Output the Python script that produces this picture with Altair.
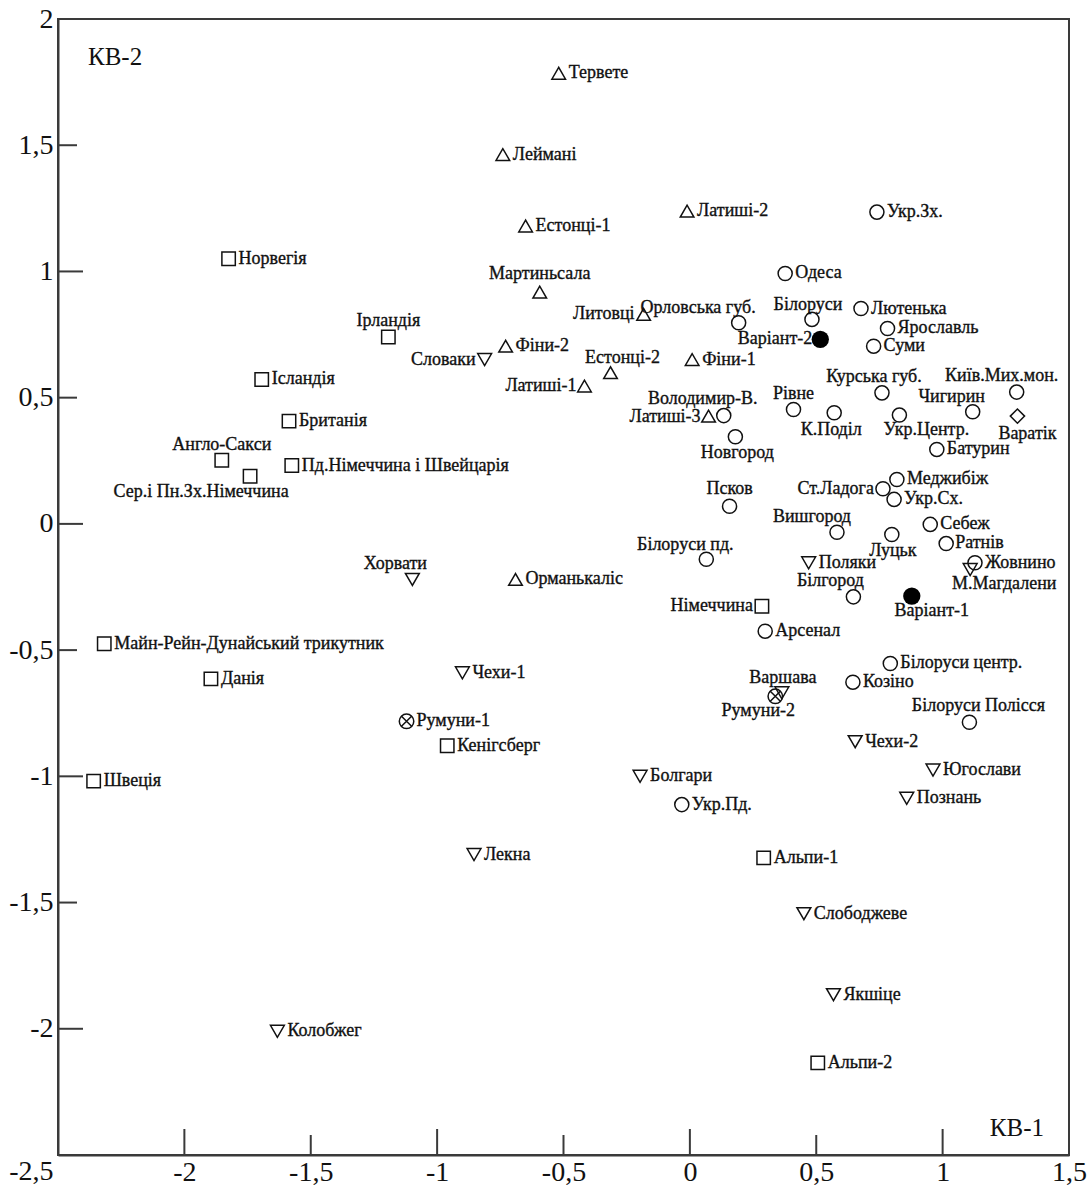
import altair as alt
import pandas as pd

# --- Population coordinates on the first two canonical variables ---------
NAMES = [
    # West-European samples (squares)
    "Норвегія", "Ірландія", "Ісландія", "Британія", "Англо-Сакси",
    "Сер.і Пн.Зх.Німеччина", "Пд.Німеччина і Швейцарія",
    "Майн-Рейн-Дунайський трикутник", "Данія", "Швеція", "Кенігсберг",
    "Німеччина", "Альпи-1", "Альпи-2",
    # Baltic and Finnic samples (upward triangles)
    "Тервете", "Леймані", "Естонці-1", "Латиші-2", "Мартиньсала", "Литовці",
    "Фіни-2", "Естонці-2", "Фіни-1", "Латиші-1", "Латиші-3", "Орманькаліс",
    # West- and South-Slavic samples (downward triangles)
    "Словаки", "Хорвати", "Поляки", "М.Магдалени", "Чехи-1", "Варшава",
    "Чехи-2", "Югослави", "Познань", "Болгари", "Лекна", "Слободжеве",
    "Якшіце", "Колобжег",
    # East-Slavic samples (circles)
    "Одеса", "Орловська губ.", "Білоруси", "Лютенька", "Укр.Зх.", "Ярославль",
    "Суми", "Курська губ.", "Київ.Мих.мон.", "Рівне", "Чигирин",
    "Володимир-В.", "К.Поділ", "Укр.Центр.", "Батурин", "Новгород", "Псков",
    "Ст.Ладога", "Меджибіж", "Укр.Сх.", "Вишгород", "Себеж", "Білоруси пд.",
    "Луцьк", "Ратнів", "Жовнино", "Білгород", "Арсенал", "Білоруси центр.",
    "Козіно", "Білоруси Полісся", "Укр.Пд.",
    # studied variants, Varangian and Romanian samples
    "Варіант-2", "Варіант-1", "Варатік", "Румуни-1", "Румуни-2",
]

KV1 = [
    -1.825, -1.193, -1.694, -1.586, -1.852,
    -1.740, -1.575,
    -2.317, -1.895, -2.359, -0.960,
    0.285, 0.292, 0.506,
    -0.519, -0.740, -0.650, -0.011, -0.594, -0.183,
    -0.729, -0.314, 0.009, -0.417, 0.074, -0.690,
    -0.812, -1.098, 0.470, 1.109, -0.900, 0.364,
    0.654, 0.962, 0.858, -0.197, -0.854, 0.451,
    0.568, -1.632,
    0.377, 0.193, 0.483, 0.677, 0.740, 0.782,
    0.727, 0.760, 1.293, 0.410, 1.119,
    0.134, 0.571, 0.829, 0.977, 0.180, 0.157,
    0.764, 0.819, 0.808, 0.582, 0.951, 0.065,
    0.799, 1.014, 1.128, 0.647, 0.298, 0.793,
    0.645, 1.106, -0.032,
    0.516, 0.878, 1.296, -1.121, 0.338,
]

KV2 = [
    1.050, 0.740, 0.572, 0.407, 0.252,
    0.189, 0.231,
    -0.475, -0.614, -1.019, -0.879,
    -0.326, -1.323, -2.135,
    1.785, 1.463, 1.180, 1.239, 0.918, 0.830,
    0.704, 0.599, 0.651, 0.546, 0.427, -0.220,
    0.651, -0.220, -0.154, -0.181, -0.590, -0.669,
    -0.863, -0.975, -1.087, -1.000, -1.310, -1.544,
    -1.865, -2.010,
    0.992, 0.797, 0.810, 0.853, 1.235, 0.774,
    0.704, 0.519, 0.522, 0.453, 0.444,
    0.429, 0.440, 0.431, 0.295, 0.345, 0.070,
    0.139, 0.176, 0.097, -0.033, -0.002, -0.140,
    -0.042, -0.078, -0.154, -0.289, -0.425, -0.553,
    -0.627, -0.786, -1.112,
    0.731, -0.286, 0.427, -0.782, -0.683,
]

MARKER = (
    ["square"] * 14
    + ["tri_up"] * 12
    + ["tri_down"] * 14
    + ["circle"] * 32
    + ["filled", "filled", "diamond", "circle_x", "circle_x"]
)

X_TICKS = [-2, -1.5, -1, -0.5, 0, 0.5, 1]
Y_TICKS = [1.5, 1, 0.5, 0, -0.5, -1, -1.5, -2]
X_LABELS = [-2, -1.5, -1, -0.5, 0, 0.5, 1, 1.5]
Y_LABELS = [2, 1.5, 1, 0.5, 0, -0.5, -1, -1.5, -2, -2.5]
X_DOMAIN = [-2.5, 1.5]
Y_DOMAIN = [-2.5, 2]

# --- layout ---------------------------------------------------------------
W, H = 1011, 1136
PX_X = W / (X_DOMAIN[1] - X_DOMAIN[0])
PX_Y = H / (Y_DOMAIN[1] - Y_DOMAIN[0])
SERIF = "Liberation Serif"
INK = "#111111"
FRAME = "#3a3a3a"

# label anchor and pixel offset from its marker; default: to the right
LABEL_LAYOUT = {
    "Ірландія": ("center", 0, -16),
    "Англо-Сакси": ("center", 0, -15),
    "Сер.і Пн.Зх.Німеччина": ("center", -49, 16),
    "Хорвати": ("center", -17, -15),
    "Мартиньсала": ("center", 0, -18),
    "Литовці": ("right", -9, 0),
    "Словаки": ("right", -9, 0),
    "Латиші-1": ("right", -8, 0),
    "Латиші-3": ("right", -8, 1),
    "Естонці-2": ("center", 12, -15),
    "Орловська губ.": ("right", 17, -15),
    "Білоруси": ("center", -4, -14),
    "Варіант-2": ("right", -8, 0),
    "Курська губ.": ("center", -8, -16),
    "Київ.Мих.мон.": ("center", -15, -16),
    "Чигирин": ("center", -21, -15),
    "Варатік": ("center", 10, 18),
    "Рівне": ("center", 0, -16),
    "К.Поділ": ("center", -3, 17),
    "Укр.Центр.": ("center", 27, 15),
    "Володимир-В.": ("center", -21, -17),
    "Новгород": ("center", 2, 16),
    "Псков": ("center", 0, -17),
    "Ст.Ладога": ("right", -9, 0),
    "Вишгород": ("center", -25, -15),
    "Луцьк": ("center", 1, 17),
    "Ратнів": ("left", 9, -1),
    "М.Магдалени": ("center", 34, 14),
    "Білоруси пд.": ("center", -21, -14),
    "Білгород": ("center", -23, -16),
    "Варіант-1": ("center", 20, 15),
    "Німеччина": ("right", -9, 0),
    "Варшава": ("center", 1, -15),
    "Румуни-2": ("center", -17, 15),
    "Білоруси Полісся": ("center", 9, -16),
}
DEFAULT_LAYOUT = ("left", 10, 0)

df = pd.DataFrame({"name": NAMES, "kv1": KV1, "kv2": KV2, "marker": MARKER})
layout = [LABEL_LAYOUT.get(n, DEFAULT_LAYOUT) for n in df["name"]]
df["anchor"] = [a for a, _, _ in layout]
df["lx"] = df["kv1"] + [dx / PX_X for _, dx, _ in layout]
df["ly"] = df["kv2"] - pd.Series([dy / PX_Y for _, _, dy in layout])

# --- scales and axes ------------------------------------------------------
xs = alt.Scale(domain=X_DOMAIN, nice=False, zero=False)
ys = alt.Scale(domain=Y_DOMAIN, nice=False, zero=False)
comma = "replace(datum.value + '', '.', ',')"

x_axis = alt.Axis(
    values=X_LABELS, labelExpr=comma, ticks=False, grid=False,
    domainColor=FRAME, domainWidth=2, labelFont=SERIF, labelFontSize=28,
    labelColor=INK, labelPadding=3, labelFlush=False, labelOverlap=False,
    title=None,
)
y_axis = alt.Axis(
    values=Y_LABELS, labelExpr=comma, ticks=False, grid=False,
    domainColor=FRAME, domainWidth=2, labelFont=SERIF, labelFontSize=28,
    labelColor=INK, labelPadding=5, labelFlush=False, labelOverlap=False,
    labelOffset={"condition": {"test": "datum.value == -2.5", "value": 16}, "value": 0},
    title=None,
)


def X(field):
    return alt.X(field, type="quantitative", scale=xs, axis=x_axis)


def Y(field):
    return alt.Y(field, type="quantitative", scale=ys, axis=y_axis)


# --- inner tick marks -----------------------------------------------------
xt = pd.DataFrame({"v": X_TICKS})
yt = pd.DataFrame({"v": Y_TICKS})
tick_style = dict(color=FRAME, strokeWidth=2)

x_major = alt.Chart(xt).transform_filter("datum.v % 1 == 0").mark_rule(**tick_style).encode(
    x=X("v"), y=alt.value(H), y2=alt.value(H - 26))
x_minor = alt.Chart(xt).transform_filter("datum.v % 1 != 0").mark_rule(**tick_style).encode(
    x=X("v"), y=alt.value(H), y2=alt.value(H - 20))
y_major = alt.Chart(yt).transform_filter("datum.v % 1 == 0").mark_rule(**tick_style).encode(
    y=Y("v"), x=alt.value(0), x2=alt.value(25))
y_minor = alt.Chart(yt).transform_filter("datum.v % 1 != 0").mark_rule(**tick_style).encode(
    y=Y("v"), x=alt.value(0), x2=alt.value(19))

# --- markers --------------------------------------------------------------
base = alt.Chart(df)
open_markers = base.transform_filter(
    alt.FieldOneOfPredicate(field="marker", oneOf=["square", "tri_up", "tri_down", "circle", "diamond", "circle_x"])
).mark_point(filled=False, color=INK, strokeWidth=1.5, opacity=1).encode(
    x=X("kv1"), y=Y("kv2"),
    shape=alt.Shape("marker:N", legend=None, scale=alt.Scale(
        domain=["square", "tri_up", "tri_down", "circle", "diamond", "circle_x"],
        range=["square", "triangle-up", "triangle-down", "circle", "diamond", "circle"])),
    size=alt.Size("marker:N", legend=None, scale=alt.Scale(
        domain=["square", "tri_up", "tri_down", "circle", "diamond", "circle_x"],
        range=[180, 210, 210, 205, 290, 215])),
)
filled_markers = base.transform_filter(alt.datum.marker == "filled").mark_point(
    filled=True, shape="circle", size=300, color="black", opacity=1
).encode(x=X("kv1"), y=Y("kv2"))
cross_marks = base.transform_filter(alt.datum.marker == "circle_x").mark_point(
    filled=False, shape="M-0.72,-0.72L0.72,0.72M-0.72,0.72L0.72,-0.72",
    size=215, color=INK, strokeWidth=1.5, opacity=1
).encode(x=X("kv1"), y=Y("kv2"))

# --- point labels ---------------------------------------------------------
def labels(anchor):
    return base.transform_filter(alt.datum.anchor == anchor).mark_text(
        font=SERIF, fontSize=18, align=anchor, baseline="middle", color=INK,
        stroke=INK, strokeWidth=0.35,
    ).encode(x=X("lx"), y=Y("ly"), text="name:N")


# --- axis names inside the frame -----------------------------------------
kv2_name = alt.Chart(pd.DataFrame({"t": ["КВ-2"]})).mark_text(
    font=SERIF, fontSize=25, align="left", baseline="middle", color=INK
).encode(text="t:N", x=alt.value(30), y=alt.value(38))
kv1_name = alt.Chart(pd.DataFrame({"t": ["КВ-1"]})).mark_text(
    font=SERIF, fontSize=25, align="right", baseline="middle", color=INK
).encode(text="t:N", x=alt.value(986), y=alt.value(1109))

chart = alt.layer(
    x_major, x_minor, y_major, y_minor,
    open_markers, cross_marks, filled_markers,
    labels("left"), labels("right"), labels("center"),
    kv2_name, kv1_name,
).properties(
    width=W, height=H,
    autosize=alt.AutoSizeParams(type="none"),
    padding={"left": 58, "top": 19, "right": 18, "bottom": 34},
    background="white",
).configure_view(stroke=FRAME, strokeWidth=2)

chart.save("out.html", embed_options={"renderer": "svg", "actions": False})
